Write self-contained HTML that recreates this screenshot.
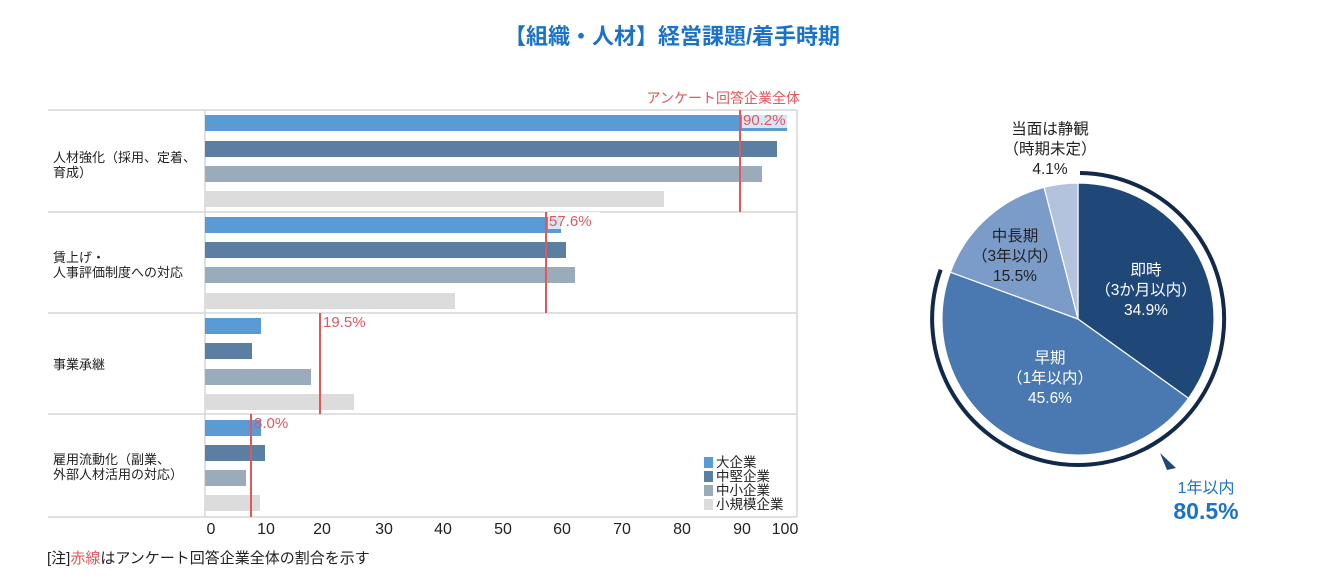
<!DOCTYPE html>
<html><head><meta charset="utf-8"><style>
body{margin:0;background:#fff;width:1344px;height:579px;overflow:hidden}
svg text{font-family:"Liberation Sans","Noto Sans CJK JP",sans-serif}
</style></head><body>
<svg width="1344" height="579" viewBox="0 0 1344 579">
<text x="672" y="44" text-anchor="middle" font-size="22" font-weight="bold" fill="#1a73c8">【組織・人材】経営課題/着手時期</text>
<text x="800" y="103" text-anchor="end" font-size="14" fill="#e0585c">アンケート回答企業全体</text>
<g stroke="#d6d6d6" stroke-width="1.5" fill="none">
<line x1="48" y1="110" x2="797" y2="110"/>
<line x1="48" y1="212" x2="797" y2="212"/>
<line x1="48" y1="313" x2="797" y2="313"/>
<line x1="48" y1="414" x2="797" y2="414"/>
<line x1="48" y1="517" x2="797" y2="517"/>
<line x1="205" y1="110" x2="205" y2="517"/>
<line x1="797" y1="110" x2="797" y2="517"/>
</g>
<g>
<rect x="205" y="115" width="582" height="16" fill="#5b9bd5"/>
<rect x="205" y="141" width="572" height="16" fill="#5a7fa3"/>
<rect x="205" y="166" width="557" height="16" fill="#9aabbb"/>
<rect x="205" y="191" width="459" height="16" fill="#dcdcdc"/>
<rect x="205" y="217" width="356" height="16" fill="#5b9bd5"/>
<rect x="205" y="242" width="361" height="16" fill="#5a7fa3"/>
<rect x="205" y="267" width="370" height="16" fill="#9aabbb"/>
<rect x="205" y="293" width="250" height="16" fill="#dcdcdc"/>
<rect x="205" y="318" width="56" height="16" fill="#5b9bd5"/>
<rect x="205" y="343" width="47" height="16" fill="#5a7fa3"/>
<rect x="205" y="369" width="106" height="16" fill="#9aabbb"/>
<rect x="205" y="394" width="149" height="16" fill="#dcdcdc"/>
<rect x="205" y="420" width="56" height="16" fill="#5b9bd5"/>
<rect x="205" y="445" width="60" height="16" fill="#5a7fa3"/>
<rect x="205" y="470" width="41" height="16" fill="#9aabbb"/>
<rect x="205" y="495" width="55" height="16" fill="#dcdcdc"/>
</g>
<g stroke="#e0585c" stroke-width="2">
<line x1="740" y1="110" x2="740" y2="212"/>
<line x1="546" y1="212" x2="546" y2="313"/>
<line x1="320" y1="313" x2="320" y2="414"/>
<line x1="251" y1="414" x2="251" y2="517"/>
</g>
<g fill="#fff" fill-opacity="0.75">
<rect x="742" y="111" width="52" height="17"/>
<rect x="548" y="212" width="52" height="17"/>
</g>
<g font-size="15" fill="#e0585c">
<text x="743" y="125">90.2%</text>
<text x="549" y="226">57.6%</text>
<text x="323" y="327">19.5%</text>
<text x="254" y="428">8.0%</text>
</g>
<g font-size="13" fill="#222">
<text x="53" y="162">人材強化（採用、定着、</text><text x="53" y="177">育成）</text>
<text x="53" y="262">賃上げ・</text><text x="53" y="277">人事評価制度への対応</text>
<text x="53" y="369">事業承継</text>
<text x="53" y="464">雇用流動化（副業、</text><text x="53" y="479">外部人材活用の対応）</text>
</g>
<g font-size="13.5" fill="#222">
<rect x="704" y="457" width="9" height="11" fill="#5b9bd5"/><text x="716" y="467">大企業</text>
<rect x="704" y="471" width="9" height="11" fill="#5a7fa3"/><text x="716" y="481">中堅企業</text>
<rect x="704" y="485" width="9" height="11" fill="#9aabbb"/><text x="716" y="495">中小企業</text>
<rect x="704" y="499" width="9" height="11" fill="#dcdcdc"/><text x="716" y="509">小規模企業</text>
</g>
<g font-size="16" fill="#222" text-anchor="middle">
<text x="211" y="534">0</text><text x="266" y="534">10</text><text x="322" y="534">20</text><text x="384" y="534">30</text><text x="443" y="534">40</text><text x="503" y="534">50</text><text x="562" y="534">60</text><text x="622" y="534">70</text><text x="682" y="534">80</text><text x="742" y="534">90</text><text x="785" y="534">100</text>
</g>
<text x="47" y="563" font-size="15" fill="#222">[注]<tspan fill="#e0585c">赤線</tspan>はアンケート回答企業全体の割合を示す</text>

<g stroke="#fff" stroke-width="1.2">
<path d="M1078,319 L1078,183 A136,136 0 0 1 1188.5,398.3 Z" fill="#1f4879"/>
<path d="M1078,319 L1188.5,398.3 A136,136 0 0 1 950.3,272.2 Z" fill="#4a78b0"/>
<path d="M1078,319 L950.3,272.2 A136,136 0 0 1 1044.1,187.3 Z" fill="#7b9cc9"/>
<path d="M1078,319 L1044.1,187.3 A136,136 0 0 1 1078,183 Z" fill="#b3c3de"/>
</g>
<path d="M1080,173 A146,146 0 1 1 940.7,269.7" fill="none" stroke="#12294a" stroke-width="4"/>
<polygon points="1160,453 1176,468 1167,470" fill="#1f4879"/>
<g font-size="15.5" text-anchor="middle" fill="#fff">
<text x="1146" y="275">即時</text><text x="1146" y="295">（3か月以内）</text><text x="1146" y="315">34.9%</text>
<text x="1050" y="363">早期</text><text x="1050" y="383">（1年以内）</text><text x="1050" y="403">45.6%</text>
</g>
<g font-size="15.5" text-anchor="middle" fill="#222">
<text x="1015" y="241">中長期</text><text x="1015" y="261">（3年以内）</text><text x="1015" y="281">15.5%</text>
<text x="1050" y="134">当面は静観</text><text x="1050" y="154">（時期未定）</text><text x="1050" y="174">4.1%</text>
</g>
<text x="1206" y="493" text-anchor="middle" font-size="16" fill="#1a73c8">1年以内</text>
<text x="1206" y="519" text-anchor="middle" font-size="23" font-weight="bold" fill="#1a73c8">80.5%</text>
</svg>
</body></html>
